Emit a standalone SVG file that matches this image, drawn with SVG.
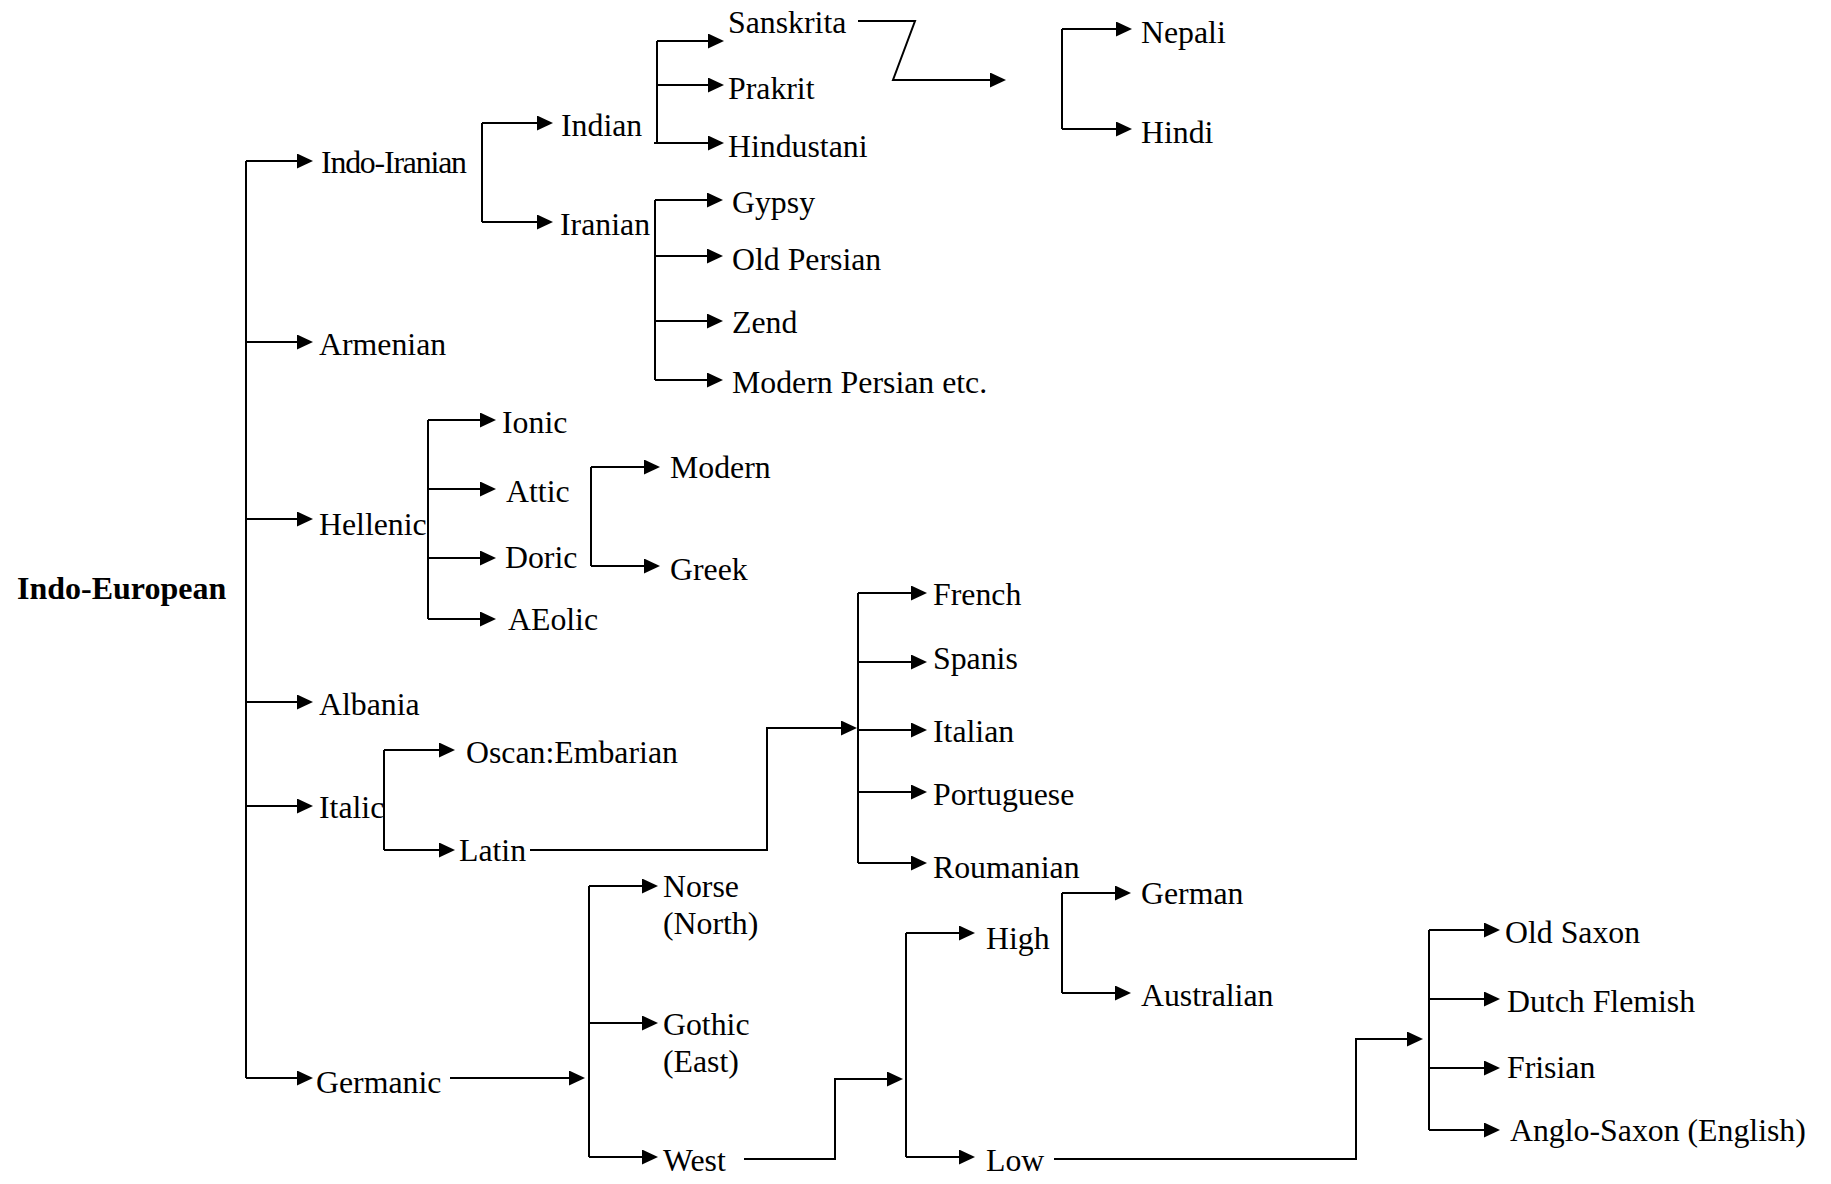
<svg xmlns="http://www.w3.org/2000/svg" width="1831" height="1184" viewBox="0 0 1831 1184">
<style>
text{font-family:"Liberation Serif","Times New Roman",serif;font-size:31.8px;fill:#000}
.root{font-weight:bold;font-size:32px}
.c{fill:none;stroke:#000;stroke-width:2}
.a{fill:none;stroke:#000;stroke-width:2;marker-end:url(#ah)}
</style>
<defs>
<marker id="ah" viewBox="0 0 16 15" refX="13" refY="7.5" markerWidth="16" markerHeight="15" markerUnits="userSpaceOnUse" orient="auto">
<path d="M0,0 L16,7.5 L0,15 z" fill="#000"/>
</marker>
</defs>
<rect width="1831" height="1184" fill="#fff"/>
<g id="connectors">
<path class="c" d="M246,161 V1078"/>
<path class="a" d="M246,161 H310"/>
<path class="a" d="M246,342 H310"/>
<path class="a" d="M246,519 H310"/>
<path class="a" d="M246,702 H310"/>
<path class="a" d="M246,806 H310"/>
<path class="a" d="M246,1078 H310"/>
<path class="c" d="M482,123 V222"/>
<path class="a" d="M482,123 H550"/>
<path class="a" d="M482,222 H550"/>
<path class="c" d="M657,41 V143"/>
<path class="a" d="M657,41 H721"/>
<path class="a" d="M657,85 H721"/>
<path class="a" d="M654,143 H721"/>
<path class="a" d="M858,21 H915 L893,80 H1003"/>
<path class="c" d="M1062,29 V129"/>
<path class="a" d="M1062,29 H1129"/>
<path class="a" d="M1062,129 H1129"/>
<path class="c" d="M655,200 V380"/>
<path class="a" d="M655,200 H720"/>
<path class="a" d="M655,256 H720"/>
<path class="a" d="M655,321 H720"/>
<path class="a" d="M655,380 H720"/>
<path class="c" d="M428,420 V619"/>
<path class="a" d="M428,420 H493"/>
<path class="a" d="M428,489 H493"/>
<path class="a" d="M428,558 H493"/>
<path class="a" d="M428,619 H493"/>
<path class="c" d="M591,467 V566"/>
<path class="a" d="M591,467 H657"/>
<path class="a" d="M591,566 H657"/>
<path class="c" d="M384,750 V850"/>
<path class="a" d="M384,750 H452"/>
<path class="a" d="M384,850 H452"/>
<path class="a" d="M530,850 H767 V728 H854"/>
<path class="c" d="M858,593 V863"/>
<path class="a" d="M858,593 H924"/>
<path class="a" d="M858,662 H924"/>
<path class="a" d="M858,730 H924"/>
<path class="a" d="M858,792 H924"/>
<path class="a" d="M858,863 H924"/>
<path class="a" d="M450,1078 H582"/>
<path class="c" d="M589,886 V1157"/>
<path class="a" d="M589,886 H655"/>
<path class="a" d="M589,1023 H655"/>
<path class="a" d="M589,1157 H655"/>
<path class="a" d="M744,1159 H835 V1079 H900"/>
<path class="c" d="M906,933 V1157"/>
<path class="a" d="M906,933 H972"/>
<path class="a" d="M906,1157 H972"/>
<path class="c" d="M1062,893 V993"/>
<path class="a" d="M1062,893 H1128"/>
<path class="a" d="M1062,993 H1128"/>
<path class="a" d="M1054,1159 H1356 V1039 H1420"/>
<path class="c" d="M1429,930 V1130"/>
<path class="a" d="M1429,930 H1497"/>
<path class="a" d="M1429,999 H1497"/>
<path class="a" d="M1429,1068 H1497"/>
<path class="a" d="M1429,1130 H1497"/>
</g>
<g id="n-indo-european"><text class="root" x="17" y="599">Indo-European</text></g>
<g id="n-indo-iranian"><text x="321" y="173" textLength="146">Indo-Iranian</text></g>
<g id="n-armenian"><text x="319" y="355">Armenian</text></g>
<g id="n-hellenic"><text x="319" y="535">Hellenic</text></g>
<g id="n-albania"><text x="319" y="715">Albania</text></g>
<g id="n-italic"><text x="319" y="818">Italic</text></g>
<g id="n-germanic"><text x="316" y="1093">Germanic</text></g>
<g id="n-indian"><text x="561" y="136">Indian</text></g>
<g id="n-iranian"><text x="560" y="235">Iranian</text></g>
<g id="n-sanskrita"><text x="728" y="33">Sanskrita</text></g>
<g id="n-prakrit"><text x="728" y="99">Prakrit</text></g>
<g id="n-hindustani"><text x="728" y="157">Hindustani</text></g>
<g id="n-nepali"><text x="1141" y="43">Nepali</text></g>
<g id="n-hindi"><text x="1141" y="143">Hindi</text></g>
<g id="n-gypsy"><text x="732" y="213">Gypsy</text></g>
<g id="n-old-persian"><text x="732" y="270">Old Persian</text></g>
<g id="n-zend"><text x="732" y="333">Zend</text></g>
<g id="n-modern-persian"><text x="732" y="393">Modern Persian etc.</text></g>
<g id="n-ionic"><text x="502" y="433">Ionic</text></g>
<g id="n-attic"><text x="506" y="502">Attic</text></g>
<g id="n-doric"><text x="505" y="568">Doric</text></g>
<g id="n-aeolic"><text x="508" y="630">AEolic</text></g>
<g id="n-modern"><text x="670" y="478">Modern</text></g>
<g id="n-greek"><text x="670" y="580">Greek</text></g>
<g id="n-oscan"><text x="466" y="763">Oscan:Embarian</text></g>
<g id="n-latin"><text x="459" y="861">Latin</text></g>
<g id="n-french"><text x="933" y="605">French</text></g>
<g id="n-spanis"><text x="933" y="669">Spanis</text></g>
<g id="n-italian"><text x="933" y="742">Italian</text></g>
<g id="n-portuguese"><text x="933" y="805">Portuguese</text></g>
<g id="n-roumanian"><text x="933" y="878">Roumanian</text></g>
<g id="n-norse"><text x="663" y="897">Norse</text><text x="663" y="934">(North)</text></g>
<g id="n-gothic"><text x="663" y="1035">Gothic</text><text x="663" y="1072">(East)</text></g>
<g id="n-west"><text x="663" y="1171">West</text></g>
<g id="n-high"><text x="986" y="949">High</text></g>
<g id="n-low"><text x="986" y="1171">Low</text></g>
<g id="n-german"><text x="1141" y="904">German</text></g>
<g id="n-australian"><text x="1141" y="1006">Australian</text></g>
<g id="n-old-saxon"><text x="1505" y="943">Old Saxon</text></g>
<g id="n-dutch-flemish"><text x="1507" y="1012">Dutch Flemish</text></g>
<g id="n-frisian"><text x="1507" y="1078">Frisian</text></g>
<g id="n-anglo-saxon"><text x="1510" y="1141">Anglo-Saxon (English)</text></g>
</svg>
